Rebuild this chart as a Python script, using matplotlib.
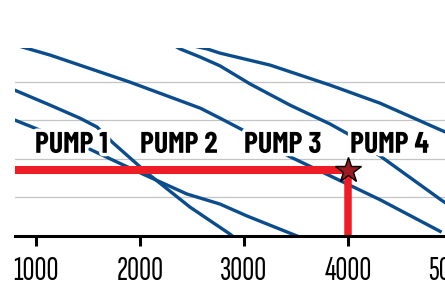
import matplotlib
matplotlib.use('Agg')
import matplotlib.pyplot as plt
import matplotlib.patheffects as pe

# Pump curves (flow on x, head on y)
pump1_x = [750, 1135, 1900, 2580, 2770, 2990, 3410, 3830, 4310, 4900]
pump1_y = [5.0, 4.7, 4.0, 3.32, 3.06, 2.75, 2.1, 1.56, 0.94, 0.1]
pump2_x = [750, 1135, 1423, 1587, 1740, 2067, 2481, 2865, 2933]
pump2_y = [3.84, 3.40, 3.06, 2.83, 2.42, 1.64, 0.75, 0.05, -0.1]
pump3_x = [750, 1038, 1490, 1740, 2067, 2452, 2769, 3029, 3510, 3635]
pump3_y = [3.06, 2.75, 2.29, 1.97, 1.56, 1.09, 0.83, 0.52, 0.0, -0.13]
pump4_x = [2288, 2385, 2577, 2769, 3058, 3442, 3827, 4000, 4308, 4894, 4981]
pump4_y = [5.01, 4.86, 4.65, 4.42, 3.95, 3.40, 2.91, 2.65, 2.08, 0.94, 0.78]
pump5_x = [2385, 2644, 2769, 3250, 3827, 4308, 4894, 4981]
pump5_y = [5.01, 4.86, 4.75, 4.44, 3.92, 3.45, 2.75, 2.65]

labels = ['PUMP 1', 'PUMP 2', 'PUMP 3', 'PUMP 4']
label_x = [990, 2000, 3000, 4020]
label_y = 2.16

ticks = [1000, 2000, 3000, 4000, 5000]
grid_y = [1, 2, 3, 4]

duty_x = 4000
duty_y = 1.72

BLUE = '#0b4d8c'
RED = '#ee1d25'
LABEL_FONT = ['Barlow Condensed', 'Fira Sans Extra Condensed', 'DejaVu Sans']
TICK_FONT = ['Sofia Sans Extra Condensed', 'Fira Sans Extra Condensed', 'DejaVu Sans']

fig = plt.figure(figsize=(4.45, 2.86), dpi=100)
ax = fig.add_axes([15 / 445, 50 / 286, 445 / 445, 188 / 286])
ax.set_xlim(798, 5077)
ax.set_ylim(0, 4.883)

# grid
for g in grid_y:
    ax.axhline(g, color='#c4c4c4', lw=0.9, zorder=1)

# pump curves
for xs, ys in [(pump1_x, pump1_y), (pump2_x, pump2_y), (pump3_x, pump3_y),
               (pump4_x, pump4_y), (pump5_x, pump5_y)]:
    ax.plot(xs, ys, color=BLUE, lw=2.4, zorder=2, solid_capstyle='butt')

# duty point lines + star
ax.plot([798, duty_x], [duty_y, duty_y], color=RED, lw=5.8, zorder=3, solid_capstyle='butt')
ax.plot([duty_x, duty_x], [duty_y, 0], color=RED, lw=5.4, zorder=3, solid_capstyle='butt')
ax.plot(duty_x, duty_y, marker='*', ms=19, color='#9b1b20', mec='black', mew=1, zorder=5)

for lab, lx in zip(labels, label_x):
    ax.text(lx, label_y, lab, fontsize=21.5, fontweight='bold', family=LABEL_FONT,
            ha='left', va='baseline', zorder=4,
            path_effects=[pe.withStroke(linewidth=5, foreground='white')])

for s in ['top', 'left', 'right']:
    ax.spines[s].set_visible(False)
ax.spines['bottom'].set_linewidth(2.2)
ax.spines['bottom'].set_zorder(6)
ax.set_yticks([])
ax.set_xticks(ticks)
ax.set_xticklabels([str(t) for t in ticks], family=TICK_FONT, fontsize=24)
ax.tick_params(axis='x', length=7.2, width=2.2, pad=7)

fig.savefig('out.png', dpi=100)
